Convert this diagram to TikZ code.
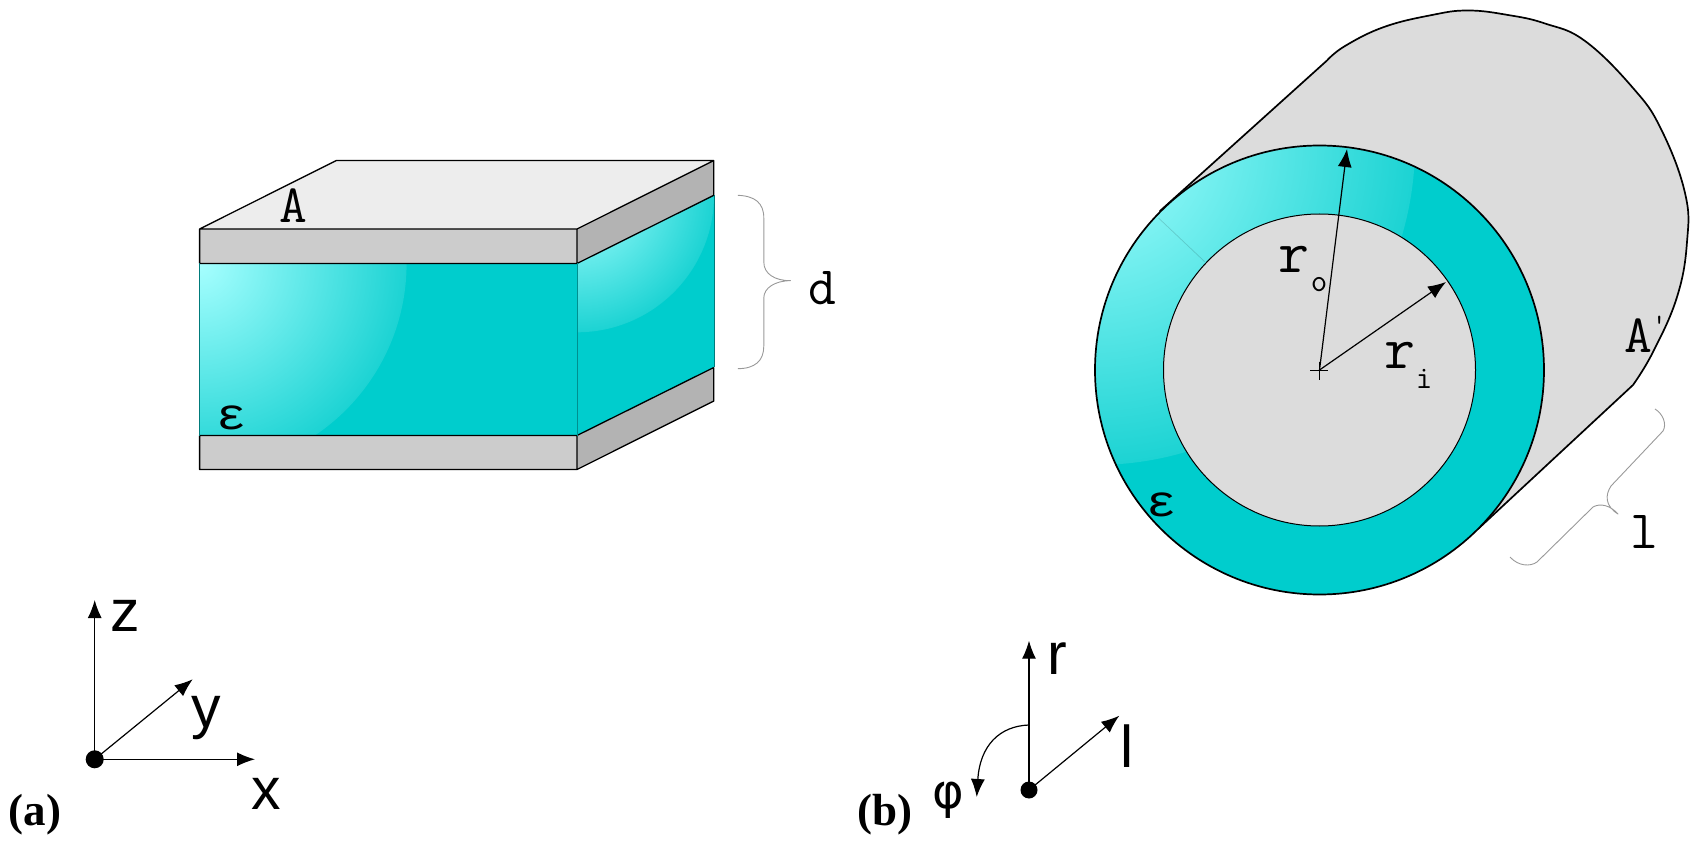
\documentclass[tikz,border=0pt]{standalone}
\usepackage{fontspec}
\usetikzlibrary{arrows.meta}
\setsansfont{Liberation Sans}
\newfontfamily\epsfont{Liberation Mono}
\newfontfamily\phifont{DejaVu Sans}
\newfontfamily\tagfont{Liberation Serif}
\definecolor{teal0}{HTML}{00CDCD}
\definecolor{glowa}{HTML}{A6FFFF}
\definecolor{glowb}{HTML}{1CD3D3}
\definecolor{plateF}{HTML}{CCCCCC}
\definecolor{plateS}{HTML}{B3B3B3}
\definecolor{plateT}{HTML}{EDEDED}
\definecolor{cyl}{HTML}{DCDCDC}
\pgfdeclareradialshading{glowshade}{\pgfpointorigin}{color(0bp)=(glowa); color(25bp)=(glowb); color(50bp)=(glowb)}
\begin{document}
\begin{tikzpicture}[x=1pt, y=-1pt, inner sep=0pt, line join=round,
      edge/.style={draw=black, line width=1.3pt},
      rim/.style={draw=black, line width=1.7pt},
      brace/.style={draw=black!40, line width=.9pt},
      axis/.style={draw=black, line width=1.2pt, -{Latex[length=18pt,width=14pt]}},
      ttl/.style={font=\fontsize{54}{54}\selectfont\ttfamily},
      ttr/.style={font=\fontsize{60}{60}\selectfont\ttfamily},
      tts/.style={font=\fontsize{32}{32}\selectfont\ttfamily},
      eps/.style={font=\fontsize{44}{44}\selectfont\epsfont, xscale=1.15},
      sfl/.style={font=\fontsize{59}{59}\selectfont\sffamily},
      tag/.style={font=\fontsize{45}{45}\selectfont\tagfont\bfseries}]
   \useasboundingbox (0,0) rectangle (1701,850);

   \coordinate (f0) at (199.6,229);
   \coordinate (f1) at (577,229);
   \coordinate (f2) at (199.6,263.5);
   \coordinate (f3) at (577,263.5);
   \coordinate (f4) at (199.6,435.5);
   \coordinate (f5) at (577,435.5);
   \coordinate (f6) at (199.6,469.5);
   \coordinate (f7) at (577,469.5);
   \coordinate (b0) at (336.3,160.5);
   \coordinate (b1) at (713.8,160.5);
   \coordinate (b2) at (713.8,195.3);
   \coordinate (b3) at (713.8,367.5);
   \coordinate (b4) at (713.8,401);

   \fill[plateT] (f0) -- (b0) -- (b1) -- (f1) -- cycle;
   \fill[plateF] (f0) -- (f1) -- (f3) -- (f2) -- cycle;
   \fill[plateF] (f4) -- (f5) -- (f7) -- (f6) -- cycle;
   \fill[plateS] (f1) -- (b1) -- (b2) -- (f3) -- cycle;
   \fill[plateS] (f5) -- (b3) -- (b4) -- (f7) -- cycle;
   \fill[teal0] (f2) -- (f3) -- (f5) -- (f4) -- cycle;
   \fill[teal0] (f3) -- (b2) -- (b3) -- (f5) -- cycle;
   \begin{scope}
      \clip (f2) -- (f3) -- (f5) -- (f4) -- cycle;
      \shade[shading=glowshade] (f2) circle (207pt);
   \end{scope}
   \begin{scope}
      \clip (f3) -- (b2) -- (b3) -- (f5) -- cycle;
      \shade[shading=glowshade] (577,195.3) circle (137pt);
   \end{scope}
   \draw[edge] (f0) -- (b0) -- (b1) -- (b2) (b3) -- (b4) -- (f7) -- (f6) -- (f4) (f2) -- (f0) -- (f1) -- (f3) -- (f2) (f1) -- (b1) (f3) -- (b2) (f5) -- (b3) (f4) -- (f5) -- (f7);
   \draw[draw=black!30!teal0, line width=.6pt] (f3) -- (f5);
   \draw[draw=black!40!teal0, line width=.6pt] (f2) -- (f4) (b2) -- (b3);

   \draw[brace] (737.9,195.3) .. controls (755,196) and (763.8,203) .. (763.8,218) -- (763.8,262) .. controls (763.8,274) and (775,280.7) .. (790.5,280.7) .. controls (775,280.7) and (763.8,288) .. (763.8,298) -- (763.8,346) .. controls (763.8,361) and (755,368.5) .. (737.9,368.7);

   \node[ttl] (A) at (293.7,206) {A};
   \node[ttl] (d) at (822.7,288) {d};
   \node[eps] (e1) at (232,418) {ε};

   \coordinate (c0) at (1319.5,370);
   \coordinate (c1) at (1160,211);
   \coordinate (c2) at (1478,529);
   \path[fill=cyl, rim] (c1) -- plot[smooth, tension=.7] coordinates {(1327,60.5) (1345,46) (1384,27) (1432,15) (1468,10.5) (1508,15) (1545,23.5) (1585,41) (1633,88) (1661,129) (1685,193) (1687,242) (1677,297) (1653,352) (1633,385)} -- (c2) -- cycle;
   \fill[teal0] (c0) circle (224.5pt);
   \begin{scope}
      \clip (c0) circle (224.5pt);
      \shade[shading=glowshade] (1095,145) circle (320pt);
   \end{scope}
   \draw[draw=black, opacity=.15, line width=.7pt] (1158.5,218) -- (1204.7,261.7);
   \draw[rim] (c0) circle (224.5pt);
   \draw[fill=cyl, line width=1pt] (c0) circle (156pt);

   \coordinate (ro) at (1347,149);
   \coordinate (ri) at (1446,282);
   \draw[line width=1pt] (1310,370.5) -- (1328,370.5) (1319.5,362) -- (1319.5,380);
   \draw[axis] (c0) -- (ro);
   \draw[axis] (c0) -- (ri);

   \node[ttr] (r0) at (1294,259) {r};
   \node[tts] (r1) at (1319,285) {o};
   \node[ttr] (r2) at (1400,355) {r};
   \node[tts] (r3) at (1424,379) {i};
   \node[eps] (e2) at (1162,505) {ε};
   \node[ttl, anchor=base] (Ap) at (1645.5,353) {A\raisebox{20pt}{\fontsize{28}{28}\selectfont'}};
   \node[ttl] (L) at (1644,532) {l};

   \draw[brace] (1655,409) .. controls (1663,414) and (1667,424) .. (1663,431) -- (1611,486) .. controls (1605,495) and (1605,506) .. (1618,514) .. controls (1610,505) and (1600,503) .. (1593,507) -- (1537,562) .. controls (1530,567) and (1518,566) .. (1510,557);

   \node[circle, fill=black, minimum size=18pt] (o1) at (94.7,759.3) {};
   \coordinate (z) at (94.7,600);
   \coordinate (x) at (255,759.3);
   \coordinate (y) at (192.7,679.3);
   \draw[axis] (o1.center) -- (z);
   \draw[axis] (o1.center) -- (x);
   \draw[axis] (o1.center) -- (y);
   \node[sfl] (zl) at (125,616) {z};
   \node[sfl] (yl) at (206,718) {y};
   \node[sfl] (xl) at (266,794) {x};
   \node[tag] (a) at (35,815) {(a)};

   \node[circle, fill=black, minimum size=17pt] (o2) at (1029,790) {};
   \coordinate (r) at (1029,640.7);
   \coordinate (l) at (1119.3,715.7);
   \coordinate (p0) at (1029,725);
   \coordinate (p1) at (976.7,797);
   \draw[axis] (o2.center) -- (r);
   \draw[axis] (o2.center) -- (l);
   \draw[axis] (p0) .. controls (1000,726) and (980,745) .. (p1);
   \node[sfl] (rl) at (1057,659) {r};
   \node[sfl] (ll) at (1127.3,746) {l};
   \node[font=\fontsize{48}{48}\selectfont\phifont] (pl) at (948,800) {φ};
   \node[tag] (b) at (885,815) {(b)};
\end{tikzpicture}
\end{document}
